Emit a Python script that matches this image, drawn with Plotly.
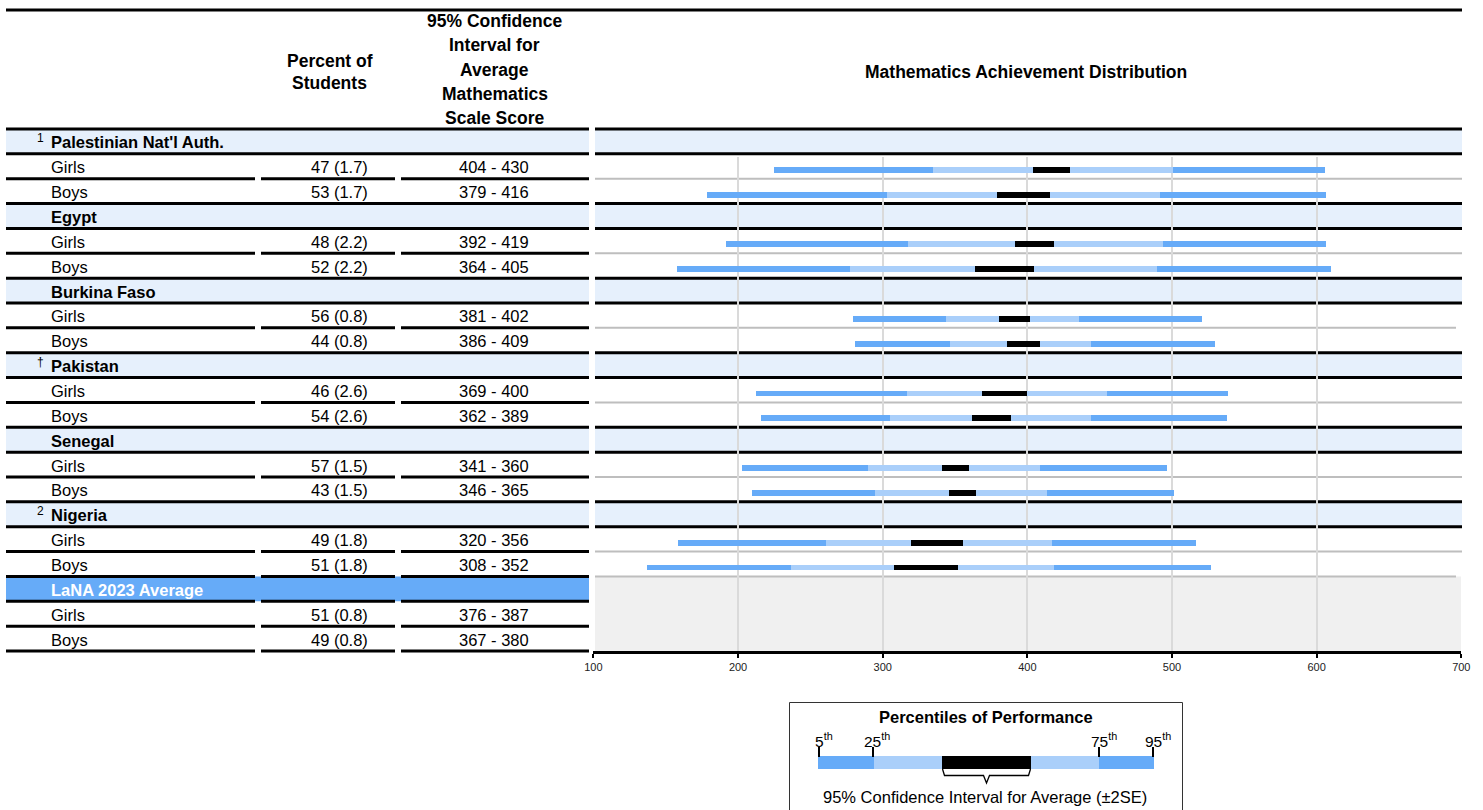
import plotly.graph_objects as go

# ---------------- data ----------------
countries = ["Palestinian Nat'l Auth.", "Egypt", "Burkina Faso", "Pakistan", "Senegal", "Nigeria"]
country_marks = ["1", "", "", "†", "", "2"]

girls_pct = [47, 48, 56, 46, 57, 49]
boys_pct = [53, 52, 44, 54, 43, 51]
pct_se = [1.7, 2.2, 0.8, 2.6, 1.5, 1.8]

girls_ci_lo = [404, 392, 381, 369, 341, 320]
girls_ci_hi = [430, 419, 402, 400, 360, 356]
boys_ci_lo = [379, 364, 386, 362, 346, 308]
boys_ci_hi = [416, 405, 409, 389, 365, 352]

girls_p5 = [225, 192, 280, 213, 203, 159]
girls_p25 = [335, 318, 344, 317, 290, 261]
girls_p75 = [501, 494, 436, 455, 409, 417]
girls_p95 = [606, 607, 521, 539, 497, 517]
boys_p5 = [179, 158, 281, 216, 210, 137]
boys_p25 = [303, 278, 347, 305, 295, 237]
boys_p75 = [492, 490, 444, 444, 414, 419]
boys_p95 = [607, 610, 530, 538, 502, 527]

avg_label = "LaNA 2023 Average"
avg_girls_pct, avg_boys_pct, avg_pct_se = 51, 49, 0.8
avg_girls_ci = (376, 387)
avg_boys_ci = (367, 380)

x_ticks = [100, 200, 300, 400, 500, 600, 700]

# ---------------- layout helpers ----------------
W, H = 1483, 810
FONT = "Liberation Sans, Arial, sans-serif"
TOP0 = 129.0
RH = 522.0 / 21
DARK = "#66ABF8"
LIGHT = "#AACFFA"
BAND = "#E6F0FC"
GRAY_BG = "#F0F0F0"


def px(x):
    return x / W


def py(y):
    return 1 - y / H


def b(k):
    return TOP0 + k * RH


shapes = []
annotations = []


def hline(x0, x1, y, color="black", w=3):
    shapes.append(dict(type="line", xref="paper", yref="paper", x0=px(x0), x1=px(x1),
                       y0=py(y), y1=py(y), line=dict(color=color, width=w), layer="below"))


def rect(x0, x1, y0, y1, color):
    shapes.append(dict(type="rect", xref="paper", yref="paper", x0=px(x0), x1=px(x1),
                       y0=py(y1), y1=py(y0), fillcolor=color, line=dict(width=0), layer="below"))


def text(x, y, s, size=16.5, anchor="left", color="black"):
    annotations.append(dict(xref="paper", yref="paper", x=px(x), y=py(y), text=s,
                            showarrow=False, xanchor=anchor, yanchor="middle",
                            font=dict(family=FONT, size=size, color=color)))


# ---------------- rows ----------------
n = len(countries)
bar_rows = []  # (row index, p5, p25, lo, hi, p75, p95)
for g in range(n):
    r = 3 * g
    rect(6, 589, b(r), b(r + 1), BAND)
    rect(595, 1462, b(r), b(r + 1), BAND)
    text(49, b(r) + RH / 2 + 1, "<b>%s</b>" % countries[g])
    if country_marks[g]:
        text(40, b(r) + RH / 2 - 3, country_marks[g], size=12, anchor="center")
    for j, (lab, pct, lo, hi) in enumerate([
            ("Girls", girls_pct[g], girls_ci_lo[g], girls_ci_hi[g]),
            ("Boys", boys_pct[g], boys_ci_lo[g], boys_ci_hi[g])]):
        rr = r + 1 + j
        yc = b(rr) + RH / 2 + 1
        text(49, yc, lab)
        text(339, yc, "%d (%.1f)" % (pct, pct_se[g]), anchor="center")
        text(494, yc, "%d - %d" % (lo, hi), anchor="center")
    bar_rows.append((r + 1, girls_p5[g], girls_p25[g], girls_ci_lo[g], girls_ci_hi[g], girls_p75[g], girls_p95[g]))
    bar_rows.append((r + 2, boys_p5[g], boys_p25[g], boys_ci_lo[g], boys_ci_hi[g], boys_p75[g], boys_p95[g]))

# average rows
ra = 3 * n
rect(6, 589, b(ra), b(ra + 1), DARK)
rect(595, 1461, b(ra), b(ra + 3), GRAY_BG)
text(49, b(ra) + RH / 2 + 1, "<b>%s</b>" % avg_label, color="white")
for j, (lab, pct, ci) in enumerate([("Girls", avg_girls_pct, avg_girls_ci), ("Boys", avg_boys_pct, avg_boys_ci)]):
    yc = b(ra + 1 + j) + RH / 2 + 1
    text(49, yc, lab)
    text(339, yc, "%d (%.1f)" % (pct, avg_pct_se), anchor="center")
    text(494, yc, "%d - %d" % ci, anchor="center")

# horizontal rules
hline(6, 1462, 10)
seg_cols = [(6, 255), (261, 395), (401, 589)]
for k in range(0, 3 * n + 4):
    y = b(k)
    band_edge = (k < 3 * n) and (k % 3 in (0, 1))
    if band_edge:
        hline(6, 589, y)
        hline(595, 1462, y)
    else:
        for c0, c1 in seg_cols:
            hline(c0, c1, y)
        if k <= 3 * n:
            x_end = 1456 if k in (8, 3 * n) else 1462
            hline(595, x_end, y, color="#BEBEBE", w=2)

# ---------------- header ----------------
for i, s in enumerate(["Percent of", "Students"]):
    text(329.5, 60.5 + i * 22, "<b>%s</b>" % s, size=17.5, anchor="center")
for i, s in enumerate(["95% Confidence", "Interval for", "Average", "Mathematics", "Scale Score"]):
    text(494.5, 21 + i * 24.3, "<b>%s</b>" % s, size=17.5, anchor="center")
text(1025.5, 72, "<b>Mathematics Achievement Distribution</b>", size=17.5, anchor="center")

# ---------------- bars ----------------
ys = [r + 0.5 + 0.14 for r, *_ in bar_rows]
segments = [
    (1, 2, DARK), (2, 3, LIGHT), (3, 4, "black"), (4, 5, LIGHT), (5, 6, DARK)
]
fig = go.Figure()
for i0, i1, col in segments:
    starts = [row[i0] for row in bar_rows]
    ends = [row[i1] for row in bar_rows]
    fig.add_trace(go.Bar(
        orientation="h", y=ys, base=starts, x=[e - s for s, e in zip(starts, ends)],
        width=0.24, marker=dict(color=col, line=dict(width=0)),
        showlegend=False, hoverinfo="skip"))

# ---------------- legend box ----------------
shapes.append(dict(type="rect", xref="paper", yref="paper", x0=px(789.5), x1=px(1182.5),
                   y0=py(812), y1=py(702.5), line=dict(color="#333333", width=1),
                   fillcolor="white", layer="below"))
text(985.5, 717, "<b>Percentiles of Performance</b>", size=16.5, anchor="center")
lx = [818, 874, 942, 1031, 1099, 1154]
lcol = [DARK, LIGHT, "black", LIGHT, DARK]
for i in range(5):
    rect(lx[i], lx[i + 1], 756, 769, lcol[i])
for tx, lab in [(819, "5"), (873, "25"), (1099, "75"), (1153, "95")]:
    shapes.append(dict(type="line", xref="paper", yref="paper", x0=px(tx), x1=px(tx),
                       y0=py(747), y1=py(757), line=dict(color="black", width=2)))
    text(tx + 4.5, 740, "%s<sup>th</sup>" % lab, size=15.5, anchor="center")
# brace
bx0, bx1, bm = 942.5, 1030.5, 986.5
pts = [(bx0, 769), (bx0 + 2, 775.5), (bm - 3, 775.5), (bm, 783), (bm + 3, 775.5), (bx1 - 2, 775.5), (bx1, 769)]
path = "M " + " L ".join("%.5f,%.5f" % (px(xx), py(yy)) for xx, yy in pts)
shapes.append(dict(type="path", xref="paper", yref="paper", path=path,
                   line=dict(color="black", width=1.3)))
text(985, 797, "95% Confidence Interval for Average (±2SE)", size=16.5, anchor="center")

# ---------------- layout ----------------
fig.update_layout(
    width=W, height=H, margin=dict(l=0, r=0, t=0, b=0, pad=0, autoexpand=False),
    paper_bgcolor="white", plot_bgcolor="rgba(0,0,0,0)",
    barmode="overlay", bargap=0, showlegend=False,
    shapes=shapes, annotations=annotations,
    font=dict(family=FONT, color="black"),
    xaxis=dict(range=[100, 700], domain=[px(593.4), px(1461.3)], tickvals=x_ticks,
               ticktext=[str(t) for t in x_ticks], showgrid=True, gridcolor="#DADADA",
               gridwidth=1.5, zeroline=False, showline=True, linecolor="black", linewidth=3,
               ticks="outside", ticklen=4, tickwidth=2, tickcolor="black", automargin=False,
               tickfont=dict(size=11, color="#222222", family=FONT), fixedrange=True),
    yaxis=dict(range=[21, (157 - TOP0) / RH], domain=[py(651), py(157)], visible=False,
               showgrid=False, zeroline=False, fixedrange=True, automargin=False),
)

fig.write_html(
    "out.html",
    config={"displayModeBar": False},
    post_script="document.body.style.margin='0';document.body.style.overflow='hidden';",
)
